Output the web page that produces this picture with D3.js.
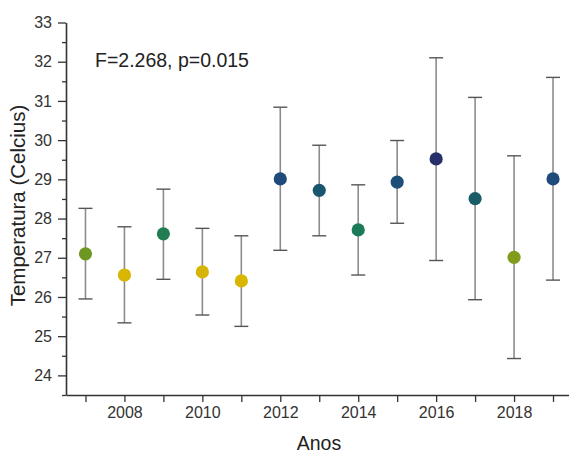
<!DOCTYPE html>
<html>
<head>
<meta charset="utf-8">
<script src="https://cdn.jsdelivr.net/npm/d3@7"></script>
<style>
  body { margin: 0; background: #fff; }
  svg { display: block; font-family: "Liberation Sans", Arial, sans-serif; }
</style>
</head>
<body>
<svg id="chart"></svg>
<script>
// values
const years = [2007, 2008, 2009, 2010, 2011, 2012, 2013, 2014, 2015, 2016, 2017, 2018, 2019]
const means = [27.10, 26.56, 27.61, 26.64, 26.41, 29.01, 28.72, 27.71, 28.93, 29.52, 28.51, 27.01, 29.01]
const upper = [28.26, 27.79, 28.75, 27.75, 27.56, 30.84, 29.87, 28.86, 29.99, 32.10, 31.09, 29.60, 31.60]
const lower = [25.95, 25.34, 26.45, 25.54, 25.25, 27.19, 27.56, 26.56, 27.88, 26.93, 25.93, 24.43, 26.43]
const yTicks = [24, 25, 26, 27, 28, 29, 30, 31, 32, 33]
const xTickLabels = [2008, 2010, 2012, 2014, 2016, 2018]
const statText = "F=2.268, p=0.015"

const W = 569, H = 453
const margin = { top: 22.5, right: -3.5, bottom: 58, left: 66 }
const width = W - margin.left - margin.right
const height = H - margin.top - margin.bottom

const svg = d3.select("#chart").attr("width", W).attr("height", H)
const g = svg.append("g").attr("transform", `translate(${margin.left},${margin.top})`)

const x = d3.scaleLinear().domain([2006.5, 2019.5]).range([0, width])
const y = d3.scaleLinear().domain([23.5, 33]).range([height, 0])

// colour follows the mean (yellow -> navy)
const color = d3.scaleLinear()
    .domain([26.4, 26.7, 27.05, 27.65, 28.6, 29.0, 29.5])
    .range(["#d9b700", "#d6b508", "#76991c", "#1b7c56", "#1a5a6a", "#1e4c7b", "#25306b"])

const data = years.map((yr, i) => ({ year: yr, mean: means[i], hi: upper[i], lo: lower[i] }))

const axisColor = "#333"

// x axis
const xAxis = g.append("g")
    .attr("transform", `translate(0,${height})`)
    .call(d3.axisBottom(x)
        .tickValues(years)
        .tickSize(7)
        .tickSizeOuter(0)
        .tickFormat(d => xTickLabels.includes(d) ? d : ""))
xAxis.select(".domain").attr("stroke", axisColor).attr("stroke-width", 1.6)
xAxis.selectAll(".tick line").attr("stroke", axisColor).attr("stroke-width", 1.3)
xAxis.selectAll(".tick text")
    .attr("y", 12).attr("dy", "0.71em")
    .attr("fill", "#333").style("font-size", "16px")

// y axis, minor ticks first
const yMinor = g.append("g")
    .call(d3.axisLeft(y).tickValues(d3.range(23.5, 33, 1)).tickSize(4).tickFormat(""))
yMinor.select(".domain").remove()
yMinor.selectAll(".tick line").attr("stroke", axisColor).attr("stroke-width", 1.3)

const yAxis = g.append("g")
    .call(d3.axisLeft(y).tickValues(yTicks).tickSize(8).tickSizeOuter(0))
yAxis.select(".domain").attr("stroke", axisColor).attr("stroke-width", 1.6)
yAxis.selectAll(".tick line").attr("stroke", axisColor).attr("stroke-width", 1.3)
yAxis.selectAll(".tick text")
    .attr("x", -14)
    .attr("fill", "#333").style("font-size", "16px")

// error bars
const bars = g.append("g")
bars.selectAll("line.stem")
    .data(data)
    .join("line")
    .attr("class", "stem")
    .attr("x1", d => x(d.year)).attr("x2", d => x(d.year))
    .attr("y1", d => y(d.hi)).attr("y2", d => y(d.lo))
    .attr("stroke", "#8c8c8c").attr("stroke-width", 1.6)

const caps = data.flatMap(d => [{ year: d.year, v: d.hi }, { year: d.year, v: d.lo }])
bars.selectAll("line.cap")
    .data(caps)
    .join("line")
    .attr("class", "cap")
    .attr("x1", d => x(d.year) - 7).attr("x2", d => x(d.year) + 7)
    .attr("y1", d => y(d.v)).attr("y2", d => y(d.v))
    .attr("stroke", "#555").attr("stroke-width", 1.4)

// points
g.append("g").selectAll("circle")
    .data(data)
    .join("circle")
    .attr("cx", d => x(d.year))
    .attr("cy", d => y(d.mean))
    .attr("r", 6.6)
    .attr("fill", d => color(d.mean))

// annotation
svg.append("text")
    .attr("x", 95).attr("y", 66.5)
    .attr("fill", "#222")
    .style("font-size", "19.5px")
    .text(statText)

// axis titles
svg.append("text")
    .attr("transform", `translate(25,${205.5}) rotate(-90)`)
    .attr("text-anchor", "middle")
    .attr("fill", "#222")
    .style("font-size", "20.5px")
    .text("Temperatura (Celcius)")

svg.append("text")
    .attr("x", 319).attr("y", 450)
    .attr("text-anchor", "middle")
    .attr("fill", "#222")
    .style("font-size", "19.5px")
    .text("Anos")
</script>
</body>
</html>
